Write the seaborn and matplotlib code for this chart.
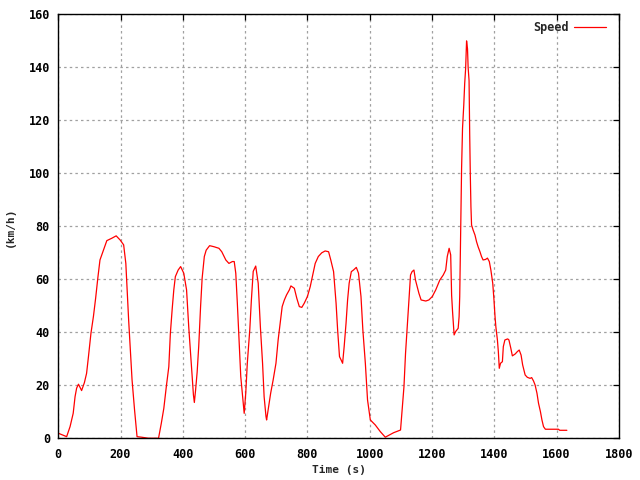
import matplotlib
matplotlib.use('Agg')
import matplotlib.pyplot as plt
import pandas as pd
import seaborn as sns

# speed trace
time_s = [
    0, 27, 38, 48, 54, 59, 65, 75, 84, 91, 97, 105, 113, 120, 127, 134, 145,
    156, 172, 186, 199, 210, 217, 226, 237, 245, 253, 267, 290, 322, 331, 339,
    347, 355, 360, 366, 371, 376, 385, 393, 403, 412, 419, 425, 430, 434, 437,
    441, 446, 451, 457, 462, 469, 475, 486, 500, 516, 525, 538, 548, 559, 565,
    570, 575, 581, 586, 591, 597, 602, 607, 615, 620, 626, 634, 642, 649, 656,
    661, 667, 669, 674, 682, 690, 699, 706, 714, 719, 726, 733, 742, 747, 758,
    766, 774, 782, 790, 800, 809, 817, 825, 835, 846, 857, 868, 875, 884, 892,
    897, 903, 908, 913, 918, 924, 929, 934, 941, 948, 957, 964, 972, 978, 986,
    993, 999, 1002, 1018, 1034, 1050, 1064, 1077, 1099, 1104, 1110, 1115, 1120,
    1126, 1131, 1136, 1142, 1147, 1158, 1165, 1180, 1190, 1201, 1212, 1225,
    1236, 1244, 1249, 1255, 1260, 1263, 1266, 1271, 1276, 1284, 1287, 1289,
    1292, 1295, 1298, 1302, 1305, 1308, 1311, 1314, 1316, 1319, 1321, 1323,
    1325, 1327, 1332, 1338, 1343, 1348, 1354, 1359, 1364, 1372, 1378, 1384,
    1389, 1395, 1399, 1402, 1405, 1410, 1413, 1416, 1420, 1426, 1429, 1434,
    1443, 1447, 1453, 1458, 1467, 1474, 1480, 1486, 1491, 1499, 1506, 1515,
    1520, 1526, 1531, 1537, 1542, 1548, 1553, 1558, 1564, 1606, 1610, 1633,
]
speed_kmh = [
    1.9, 0.6, 4.4, 9.4, 15.7, 18.9, 20.4, 18.0, 21.0, 24.5, 30.8, 39.6, 46.0,
    52.8, 60.4, 67.3, 71.0, 74.6, 75.5, 76.4, 74.8, 73.0, 66.0, 44.7, 22.0,
    10.7, 0.6, 0.4, 0.0, 0.0, 5.7, 11.3, 19.5, 27.0, 39.6, 49.0, 56.0, 61.0,
    63.5, 64.8, 62.3, 56.0, 42.0, 32.0, 23.3, 16.4, 13.5, 18.2, 25.0, 34.6,
    49.7, 60.4, 68.6, 71.0, 72.7, 72.3, 71.7, 70.4, 67.3, 66.0, 66.7, 66.7,
    62.3, 51.0, 35.8, 23.3, 17.0, 9.4, 17.0, 28.3, 41.0, 52.0, 63.0, 65.0,
    58.5, 42.0, 28.3, 15.7, 8.2, 6.9, 10.7, 17.0, 22.0, 28.3, 37.1, 44.7,
    49.7, 52.2, 54.1, 56.0, 57.5, 56.6, 52.8, 49.7, 49.4, 51.0, 53.5, 57.2,
    61.6, 66.0, 68.6, 70.0, 70.7, 70.4, 67.3, 62.9, 51.0, 40.9, 30.8, 29.6,
    28.3, 34.6, 43.4, 52.2, 58.5, 62.9, 63.5, 64.5, 62.3, 53.5, 40.9, 28.3,
    14.5, 9.4, 6.9, 5.0, 2.5, 0.4, 1.3, 2.1, 3.1, 10.7, 19.5, 32.0, 40.9,
    52.2, 61.6, 62.9, 63.5, 59.7, 54.7, 52.2, 51.8, 52.2, 53.5, 56.0, 59.7,
    61.6, 63.5, 68.6, 71.7, 69.2, 54.0, 47.8, 39.0, 40.3, 41.5, 45.9, 53.5,
    78.0, 101.9, 117.0, 125.8, 134.0, 139.6, 150.0, 147.0, 140.0, 135.0,
    115.0, 99.4, 87.4, 80.5, 78.6, 76.7, 74.2, 72.3, 70.4, 68.6, 67.3, 67.5,
    68.0, 66.7, 63.5, 58.5, 52.2, 46.5, 42.1, 37.1, 32.7, 26.4, 28.3, 28.9,
    34.6, 37.1, 37.5, 37.1, 34.0, 31.1, 31.8, 32.7, 33.3, 31.4, 27.7, 23.9,
    23.0, 22.6, 22.9, 21.6, 20.1, 17.0, 13.2, 10.1, 6.9, 4.4, 3.4, 3.4, 3.0,
    3.0,
]
x_ticks = list(range(0, 1801, 200))
y_ticks = list(range(0, 161, 20))

df = pd.DataFrame({"Time (s)": time_s, "Speed": speed_kmh})

sns.set_style("white")
plt.rcParams["font.family"] = ["DejaVu Sans Mono"]
plt.rcParams["font.weight"] = "bold"

fig = plt.figure(figsize=(6.4, 4.8), dpi=100)
ax = fig.add_axes([0.091, 0.087, 0.876, 0.883])

sns.lineplot(data=df, x="Time (s)", y="Speed", sort=False, color="#ff0000",
             linewidth=0.9, label="Speed", ax=ax)

ax.set_xlim(0, 1800)
ax.set_ylim(0, 160)
ax.set_xticks(x_ticks)
ax.set_yticks(y_ticks)
ax.grid(True, color="#a0a0a0", linestyle=(0, (2, 2.5)), linewidth=0.9)
ax.tick_params(direction="in", length=4, width=0.9, top=True, right=True,
               labelsize=8.5, colors="black")
ax.tick_params(axis="x", pad=7)
ax.tick_params(axis="y", pad=6)
for lbl in ax.get_xticklabels() + ax.get_yticklabels():
    lbl.set_fontweight("bold")
for side in ax.spines.values():
    side.set_color("black")
    side.set_linewidth(1.0)

ax.set_xlabel("Time (s)", fontsize=8, fontweight="bold", labelpad=3)
ax.set_ylabel("(km/h)", fontsize=8, fontweight="bold", labelpad=10)

leg = ax.legend(loc="upper right", bbox_to_anchor=(0.99, 1.0), frameon=False,
                markerfirst=False, fontsize=8.5, handlelength=2.7,
                handletextpad=0.5, borderaxespad=0.2)
for t in leg.get_texts():
    t.set_fontweight("bold")

fig.savefig("out.png", dpi=100)
plt.close(fig)
